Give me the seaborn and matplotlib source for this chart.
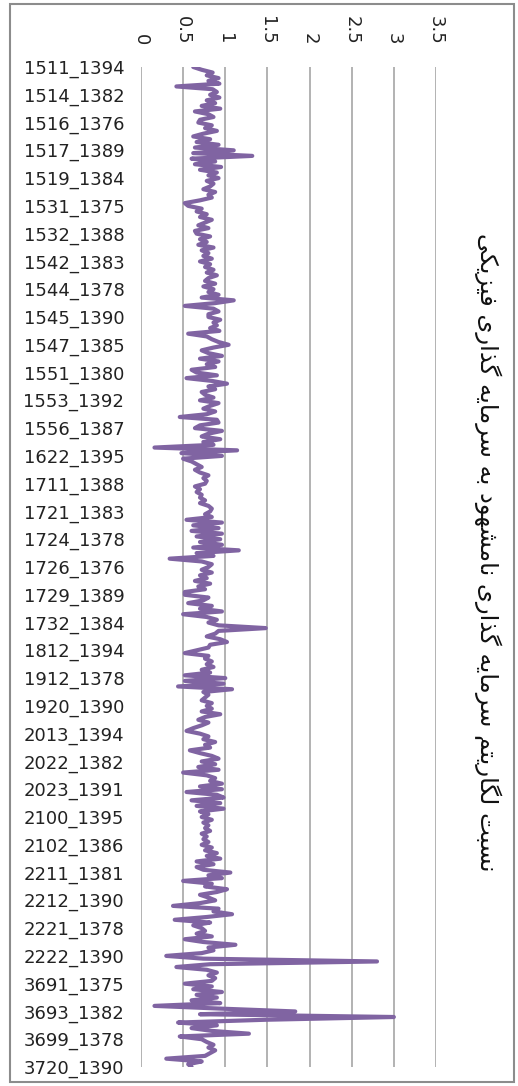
"""
Rotated Excel-style line chart: log ratio of intangible to physical investment
per firm-year. Saves out.png (518x1086).
"""

from __future__ import annotations

import matplotlib

matplotlib.use("Agg")
import matplotlib.pyplot as plt
import numpy as np
import seaborn as sns
from matplotlib.patches import Rectangle


TITLE = "نسبت لگاریتم سرمایه گذاری نامشهود به سرمایه گذاری فیزیکی"

# Labels Excel shows on the category axis (every 10th firm-year)
TICK_LABELS = [
    "1511_1394", "1514_1382", "1516_1376", "1517_1389", "1519_1384",
    "1531_1375", "1532_1388", "1542_1383", "1544_1378", "1545_1390",
    "1547_1385", "1551_1380", "1553_1392", "1556_1387", "1622_1395",
    "1711_1388", "1721_1383", "1724_1378", "1726_1376", "1729_1389",
    "1732_1384", "1812_1394", "1912_1378", "1920_1390", "2013_1394",
    "2022_1382", "2023_1391", "2100_1395", "2102_1386", "2211_1381",
    "2212_1390", "2221_1378", "2222_1390", "3691_1375", "3693_1382",
    "3699_1378", "3720_1390",
]
LABEL_STEP = 10

VALUE_TICKS = [0, 0.5, 1, 1.5, 2, 2.5, 3, 3.5]
VALUE_TICK_LABELS = ["0", "0.5", "1", "1.5", "2", "2.5", "3", "3.5"]

# ratio values, one block per labelled interval
RATIO = [
    0.62, 0.72, 0.85, 0.78, 0.92, 0.80, 0.93, 0.42, 0.85, 0.90,
    0.82, 0.93, 0.78, 0.88, 0.72, 0.94, 0.64, 0.80, 0.86, 0.70,
    0.68, 0.84, 0.76, 0.90, 0.74, 0.62, 0.82, 0.66, 0.92, 0.64,
    1.10, 0.62, 1.32, 0.60, 0.88, 0.64, 0.95, 0.70, 0.90, 0.80,
    0.92, 0.78, 0.86, 0.82, 0.74, 0.88, 0.80, 0.84, 0.70, 0.52,
    0.56, 0.72, 0.66, 0.78, 0.70, 0.84, 0.76, 0.68, 0.80, 0.64,
    0.66, 0.82, 0.70, 0.78, 0.68, 0.86, 0.72, 0.80, 0.74, 0.84,
    0.70, 0.82, 0.76, 0.86, 0.78, 0.90, 0.80, 0.76, 0.88, 0.74,
    0.86, 0.80, 0.92, 0.72, 1.10, 0.88, 0.52, 0.86, 0.92, 0.80,
    0.80, 0.94, 0.86, 0.90, 0.82, 0.93, 0.56, 0.78, 0.84, 0.92,
    1.04, 0.86, 0.72, 0.80, 0.96, 0.70, 0.92, 0.78, 0.88, 0.60,
    0.66, 0.90, 0.54, 0.84, 1.02, 0.80, 0.88, 0.72, 0.76, 0.86,
    0.70, 0.92, 0.82, 0.74, 0.88, 0.78, 0.46, 0.90, 0.92, 0.70,
    0.64, 0.96, 0.80, 0.72, 0.94, 0.74, 0.86, 0.16, 1.14, 0.48,
    0.96, 0.50, 0.60, 0.66, 0.72, 0.64, 0.70, 0.80, 0.74, 0.78,
    0.76, 0.64, 0.70, 0.66, 0.72, 0.70, 0.76, 0.70, 0.80, 0.84,
    0.82, 0.76, 0.84, 0.54, 0.96, 0.62, 0.92, 0.60, 0.96, 0.66,
    0.94, 0.70, 0.96, 0.62, 1.16, 0.66, 0.86, 0.34, 0.72, 0.84,
    0.80, 0.72, 0.84, 0.70, 0.78, 0.64, 0.82, 0.68, 0.76, 0.52,
    0.52, 0.80, 0.74, 0.56, 0.84, 0.70, 0.96, 0.50, 0.78, 0.90,
    0.80, 0.92, 1.48, 0.92, 0.88, 0.78, 0.94, 1.02, 0.82, 0.80,
    0.66, 0.52, 0.80, 0.76, 0.84, 0.78, 0.86, 0.72, 0.82, 0.52,
    1.00, 0.52, 0.98, 0.44, 1.08, 0.74, 0.80, 0.76, 0.72, 0.84,
    0.78, 0.84, 0.72, 0.94, 0.76, 0.68, 0.80, 0.72, 0.62, 0.54,
    0.70, 0.80, 0.74, 0.88, 0.76, 0.82, 0.58, 0.70, 0.84, 0.92,
    0.72, 0.88, 0.68, 0.92, 0.50, 0.78, 0.88, 0.82, 0.96, 0.70,
    0.96, 0.54, 0.90, 0.98, 0.60, 0.94, 0.66, 0.98, 0.70, 0.80,
    0.72, 0.84, 0.74, 0.80, 0.76, 0.82, 0.72, 0.78, 0.74, 0.80,
    0.72, 0.84, 0.76, 0.90, 0.78, 0.94, 0.66, 0.86, 0.66, 0.74,
    1.06, 0.80, 0.96, 0.50, 0.84, 0.76, 1.02, 0.90, 0.70, 0.80,
    0.88, 0.70, 0.38, 0.92, 0.86, 1.08, 0.78, 0.40, 0.82, 0.62,
    0.72, 0.76, 0.66, 0.84, 0.52, 0.74, 1.12, 0.80, 0.86, 0.72,
    0.30, 0.74, 2.80, 0.82, 0.42, 0.78, 0.90, 0.80, 0.88, 0.84,
    0.52, 0.84, 0.62, 0.96, 0.66, 0.90, 0.60, 0.94, 0.16, 0.96,
    1.83, 0.70, 3.00, 1.47, 0.44, 0.90, 0.60, 0.84, 1.28, 0.46,
    0.72, 0.78, 0.86, 0.80, 0.88, 0.82, 0.76, 0.30, 0.72, 0.56,
    0.60,
]

LINE_COLOR = "#8064A2"
GRID_COLOR = "#A6A6A6"


# -- Arabic shaping (matplotlib has no complex text layout) --------------------

# letter -> (isolated, final, initial, medial); two-form letters never join forward
FORMS = {
    "\u0627": ("\uFE8D", "\uFE8E"),
    "\u0628": ("\uFE8F", "\uFE90", "\uFE91", "\uFE92"),
    "\u062A": ("\uFE95", "\uFE96", "\uFE97", "\uFE98"),
    "\u062F": ("\uFEA9", "\uFEAA"),
    "\u0630": ("\uFEAB", "\uFEAC"),
    "\u0631": ("\uFEAD", "\uFEAE"),
    "\u0632": ("\uFEAF", "\uFEB0"),
    "\u0633": ("\uFEB1", "\uFEB2", "\uFEB3", "\uFEB4"),
    "\u0634": ("\uFEB5", "\uFEB6", "\uFEB7", "\uFEB8"),
    "\u0641": ("\uFED1", "\uFED2", "\uFED3", "\uFED4"),
    "\u0644": ("\uFEDD", "\uFEDE", "\uFEDF", "\uFEE0"),
    "\u0645": ("\uFEE1", "\uFEE2", "\uFEE3", "\uFEE4"),
    "\u0646": ("\uFEE5", "\uFEE6", "\uFEE7", "\uFEE8"),
    "\u0647": ("\uFEE9", "\uFEEA", "\uFEEB", "\uFEEC"),
    "\u0648": ("\uFEED", "\uFEEE"),
    "\u06A9": ("\uFB8E", "\uFB8F", "\uFB90", "\uFB91"),
    "\u06AF": ("\uFB92", "\uFB93", "\uFB94", "\uFB95"),
    "\u06CC": ("\uFBFC", "\uFBFD", "\uFBFE", "\uFBFF"),
}


def shape_rtl(text: str) -> str:
    out = []
    for i, ch in enumerate(text):
        forms = FORMS.get(ch)
        if forms is None:
            out.append(ch)
            continue
        prev = text[i - 1] if i > 0 else ""
        nxt = text[i + 1] if i + 1 < len(text) else ""
        joins_prev = len(FORMS.get(prev, ())) == 4
        joins_next = len(forms) == 4 and nxt in FORMS
        if joins_prev and joins_next:
            out.append(forms[3])
        elif joins_prev:
            out.append(forms[1])
        elif joins_next:
            out.append(forms[2])
        else:
            out.append(forms[0])
    return "".join(reversed(out))


# -- Plot ----------------------------------------------------------------------

def plot_chart(path: str) -> None:
    sns.set_theme(style="white")
    plt.rcParams["font.family"] = ["DejaVu Sans"]

    W, H = 518, 1086
    fig = plt.figure(figsize=(W / 100, H / 100), dpi=100)
    ax = fig.add_axes([141 / W, 1 - 1067 / H, (436 - 141) / W, (1067 - 67) / H])

    idx = np.arange(len(RATIO))
    sns.lineplot(
        x=RATIO, y=idx, orient="y", sort=False, estimator=None,
        color=LINE_COLOR, linewidth=3.0, ax=ax,
    )

    ax.set_xlim(0, 3.5)
    ax.set_ylim(len(RATIO) - 1, 0)

    ax.set_xticks(VALUE_TICKS)
    ax.set_xticklabels(VALUE_TICK_LABELS, rotation=-90)
    ax.xaxis.tick_top()
    ax.tick_params(axis="x", length=0, pad=16, labelsize=13, colors="#222222")

    ax.set_yticks(idx[::LABEL_STEP])
    ax.set_yticklabels(TICK_LABELS)
    ax.tick_params(axis="y", length=0, pad=12, labelsize=13, colors="#222222")

    ax.grid(axis="x", color=GRID_COLOR, linewidth=1.2)
    ax.grid(axis="y", visible=False)
    for spine in ax.spines.values():
        spine.set_visible(False)
    ax.set_xlabel("")
    ax.set_ylabel("")

    fig.text(488 / W, 1 - 552 / H, shape_rtl(TITLE), rotation=-90,
             ha="center", va="center", fontsize=17.5, color="#111111")

    # chart-area border
    fig.patches.append(Rectangle((10 / W, 1 - 1082 / H), 504 / W, 1078 / H,
                                 transform=fig.transFigure, fill=False,
                                 edgecolor="#8C8C8C", linewidth=1.5))

    fig.savefig(path, dpi=100)
    plt.close(fig)


def main() -> None:
    plot_chart("out.png")


if __name__ == "__main__":
    main()
